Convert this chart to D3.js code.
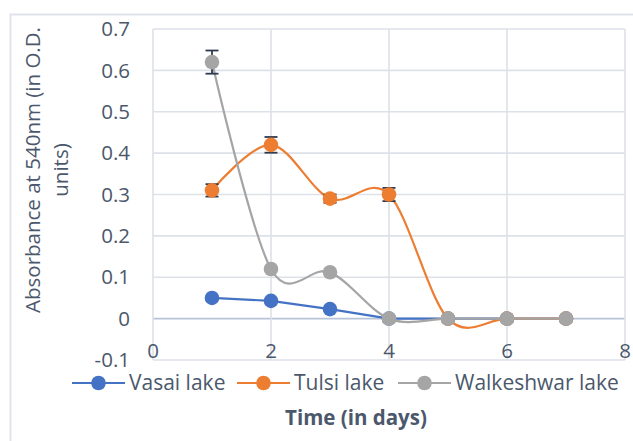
<!DOCTYPE html>
<html><head><meta charset="utf-8">
<script src="https://cdn.jsdelivr.net/npm/d3@7"></script>
<style>body{margin:0;background:#fff;overflow:hidden}svg{display:block}text{font-family:"Open Sans",sans-serif}</style>
</head><body><svg id="c" width="633" height="441"></svg>
<script>
const days = [1,2,3,4,5,6,7];
const vasai = [0.05,0.043,0.023,0,0,0,0];
const tulsi = [0.31,0.42,0.29,0.30,0,0,0];
const tulsiErr = [0.015,0.019,0.01,0.016,0,0,0];
const walk = [0.62,0.12,0.112,0,0,0,0];
const walkErr = [0.028,0,0,0,0,0,0];
const seriesNames = ["Vasai lake","Tulsi lake","Walkeshwar lake"];
const colors = ["#4472C4","#ED7D31","#A5A5A5"];
const xTicks = [0,2,4,6,8];
const yTicks = [-0.1,0,0.1,0.2,0.3,0.4,0.5,0.6,0.7];

const svg = d3.select("#c");
const txt = "#4b586c";
const FS = 20.5;
const x = d3.scaleLinear().domain([0,8]).range([153,625]);
const y = d3.scaleLinear().domain([-0.1,0.7]).range([360,29]);

// outer chart border
svg.append("path").attr("d","M10.5,441 V14.5 H633").attr("fill","none").attr("stroke","#e1e4ea").attr("stroke-width",2);

// gridlines
const g = svg.append("g");
g.selectAll(".h").data(yTicks).join("line")
 .attr("x1",x(0)).attr("x2",x(8)).attr("y1",d=>y(d)).attr("y2",d=>y(d))
 .attr("stroke",d=>d===0?"#b7c3d8":"#dde1e8").attr("stroke-width",1.6);
g.selectAll(".v").data(xTicks).join("line")
 .attr("y1",y(0.7)).attr("y2",y(-0.1)).attr("x1",d=>x(d)).attr("x2",d=>x(d))
 .attr("stroke","#dde1e8").attr("stroke-width",1.6);

// tick labels
svg.selectAll(".yl").data(yTicks).join("text")
 .attr("x",130).attr("y",d=>y(d)).attr("dy","0.35em").attr("text-anchor","end")
 .attr("font-size",FS).attr("fill",txt).text(d=>String(+d.toFixed(1)));
svg.selectAll(".xl").data(xTicks).join("text")
 .attr("x",d=>x(d)).attr("y",358).attr("text-anchor","middle")
 .attr("font-size",FS).attr("fill",txt).text(d=>d);

// series
const all = [vasai,tulsi,walk];
const curves = [d3.curveLinear, d3.curveCardinal.tension(0), d3.curveCardinal.tension(0)];
const errs = [null,tulsiErr,walkErr];
all.forEach((vals,i)=>{
  const pts = days.map((d,j)=>[x(d),y(vals[j])]);
  svg.append("path").attr("d",d3.line().curve(curves[i])(pts))
    .attr("fill","none").attr("stroke",colors[i]).attr("stroke-width",2.2);
  if(errs[i]){
    const e = errs[i];
    const eg = svg.append("g").attr("stroke","#2e3a50").attr("stroke-width",1.8);
    days.forEach((d,j)=>{ if(e[j]>0){
      const cx=x(d), y1=y(vals[j]+e[j]), y2=y(vals[j]-e[j]);
      eg.append("line").attr("x1",cx).attr("x2",cx).attr("y1",y1).attr("y2",y2);
      eg.append("line").attr("x1",cx-6.5).attr("x2",cx+6.5).attr("y1",y1).attr("y2",y1);
      eg.append("line").attr("x1",cx-6.5).attr("x2",cx+6.5).attr("y1",y2).attr("y2",y2);
    }});
  }
  svg.append("g").selectAll("circle").data(pts).join("circle")
    .attr("cx",p=>p[0]).attr("cy",p=>p[1]).attr("r",7.3).attr("fill",colors[i]);
});

// legend
const legX = [72,237,398];
seriesNames.forEach((n,i)=>{
  const lx = legX[i], ly = 383;
  svg.append("line").attr("x1",lx).attr("x2",lx+53).attr("y1",ly).attr("y2",ly)
    .attr("stroke",colors[i]).attr("stroke-width",2.2);
  svg.append("circle").attr("cx",lx+26.5).attr("cy",ly).attr("r",7.3).attr("fill",colors[i]);
  svg.append("text").attr("x",lx+57).attr("y",ly).attr("dy","0.35em")
    .attr("font-size",21).attr("fill",txt).text(n);
});

// axis titles
svg.append("text").attr("x",356).attr("y",418).attr("dy","0.35em").attr("text-anchor","middle")
  .attr("font-size",FS).attr("font-weight","bold").attr("fill",txt).text("Time (in days)");
const yt = svg.append("text").attr("transform","translate(0,170) rotate(-90)")
  .attr("text-anchor","middle").attr("font-size",FS).attr("fill",txt);
yt.append("tspan").attr("x",0).attr("y",40).text("Absorbance at 540nm (in O.D.");
yt.append("tspan").attr("x",0).attr("y",68).text("units)");
</script></body></html>
